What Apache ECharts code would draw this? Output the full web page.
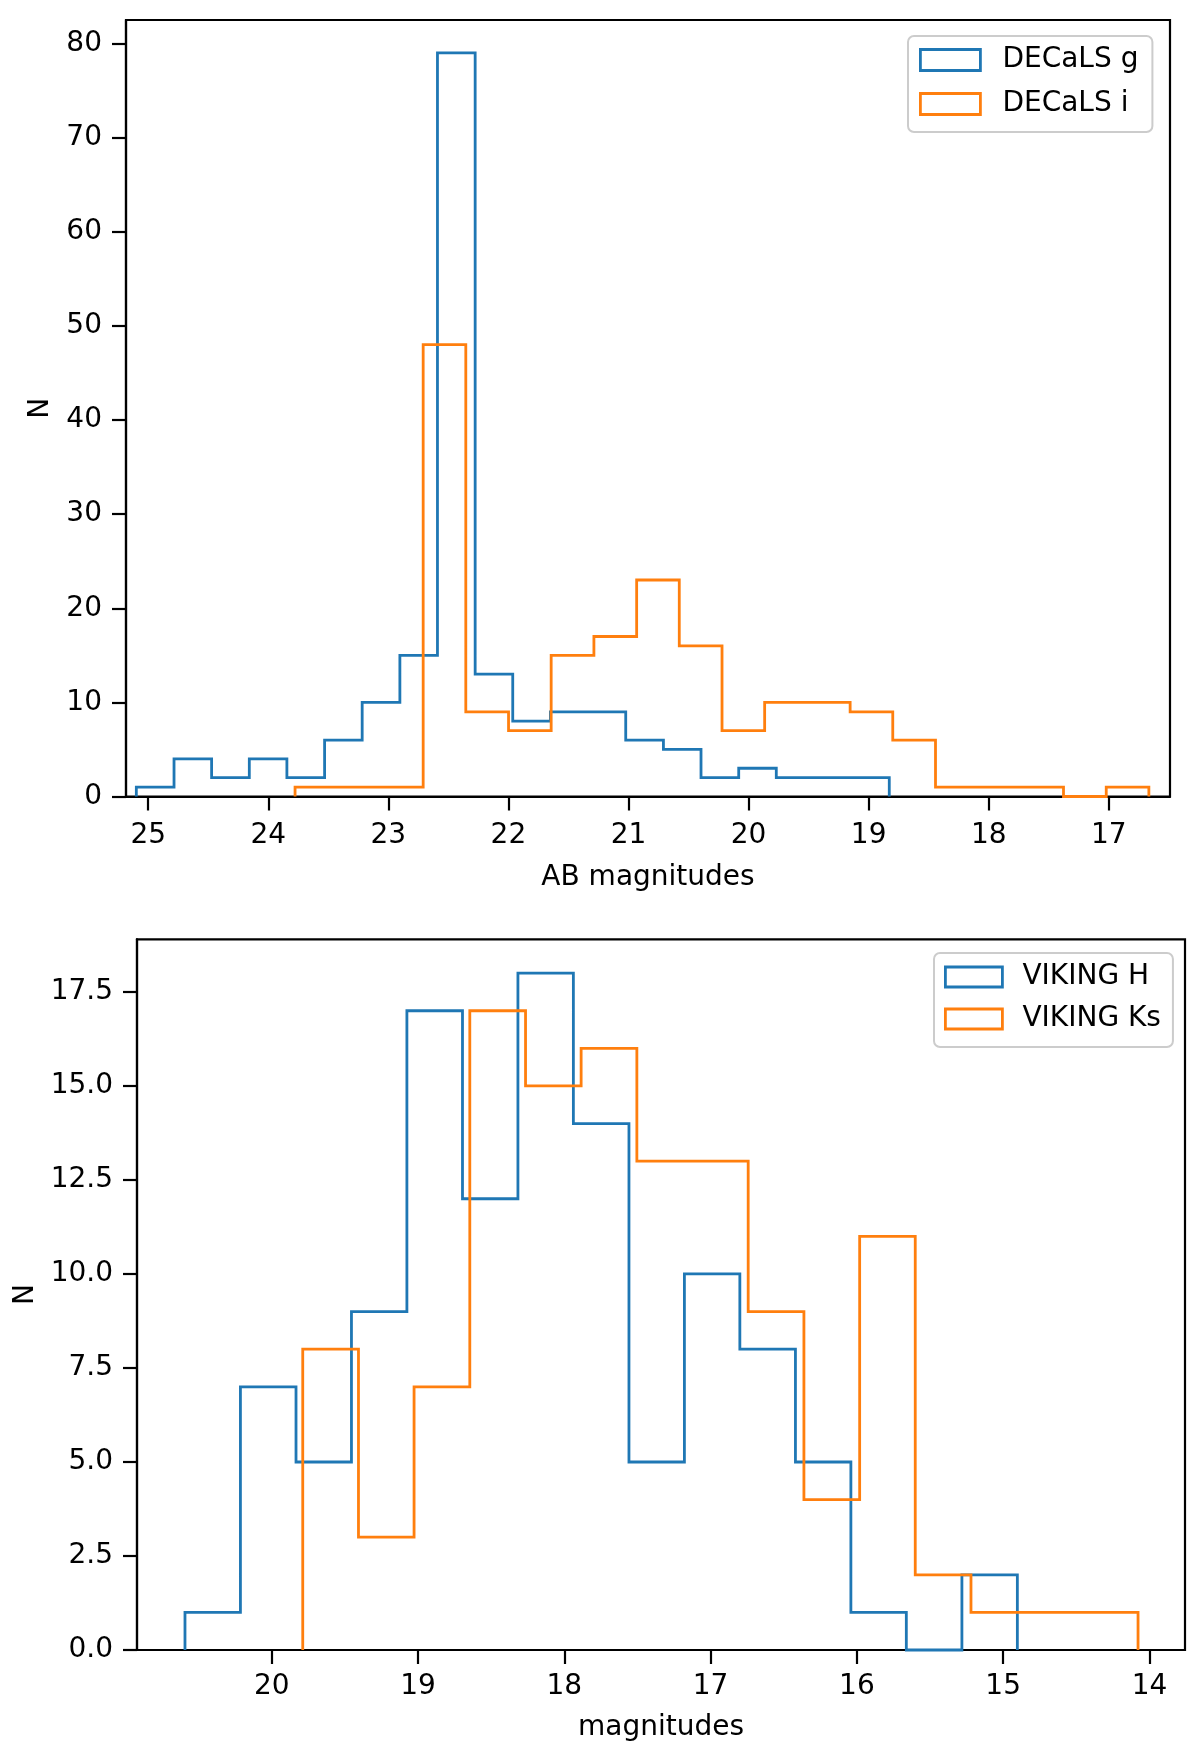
<!DOCTYPE html>
<html><head><meta charset="utf-8">
<script src="https://cdn.jsdelivr.net/npm/echarts@6/dist/echarts.min.js"></script>
<style>html,body{margin:0;padding:0;background:#fff}#c{width:1200px;height:1749px}</style>
</head><body><div id="c"></div>
<script>
// ---- Top panel: DECaLS (AB magnitudes) ----
const decalsGEdges = [25.099, 24.785, 24.472, 24.158, 23.845, 23.531, 23.218, 22.904, 22.591, 22.277, 21.964,
                      21.650, 21.337, 21.023, 20.709, 20.396, 20.082, 19.769, 19.455, 19.142, 18.828];
const decalsGCounts = [1, 4, 2, 4, 2, 6, 10, 15, 79, 13, 8, 9, 9, 6, 5, 2, 3, 2, 2, 2];
const decalsIEdges = [23.777, 23.421, 23.066, 22.710, 22.355, 21.999, 21.644, 21.288, 20.932, 20.577, 20.221,
                      19.866, 19.510, 19.154, 18.799, 18.443, 18.088, 17.732, 17.377, 17.021, 16.666];
const decalsICounts = [1, 1, 1, 48, 9, 7, 15, 17, 23, 16, 7, 10, 10, 9, 6, 1, 1, 1, 0, 1];
const topXTicks = [17, 18, 19, 20, 21, 22, 23, 24, 25];
const topYTicks = [0, 10, 20, 30, 40, 50, 60, 70, 80];

// ---- Bottom panel: VIKING ----
const vikingHEdges = [20.593, 20.214, 19.834, 19.455, 19.076, 18.696, 18.317, 17.938, 17.558, 17.179, 16.800,
                      16.420, 16.041, 15.662, 15.282, 14.903];
const vikingHCounts = [1, 7, 5, 9, 17, 12, 18, 14, 5, 10, 8, 5, 1, 0, 2];
const vikingKsEdges = [19.788, 19.407, 19.027, 18.646, 18.265, 17.885, 17.504, 17.123, 16.743, 16.362, 15.981,
                       15.601, 15.220, 14.839, 14.459, 14.078];
const vikingKsCounts = [8, 3, 7, 17, 15, 16, 13, 13, 9, 4, 11, 2, 1, 1, 1];
const botXTicks = [14, 15, 16, 17, 18, 19, 20];
const botYTicks = [0, 2.5, 5, 7.5, 10, 12.5, 15, 17.5];

const BLUE = '#1f77b4', ORANGE = '#ff7f0e';
const FONT = 'DejaVu Sans';
const FS = 28;

function stepPoints(edges, counts) {
  const pts = [[edges[0], 0]];
  for (let i = 0; i < counts.length; i++) {
    pts.push([edges[i], counts[i]]);
    pts.push([edges[i + 1], counts[i]]);
  }
  pts.push([edges[edges.length - 1], 0]);
  return pts;
}

function histSeries(name, edges, counts, color, idx) {
  return {
    type: 'line', name: name, xAxisIndex: idx, yAxisIndex: idx,
    data: stepPoints(edges, counts), showSymbol: false, symbol: 'none',
    clip: false, animation: false,
    lineStyle: { color: color, width: 2.8, join: 'miter' },
    itemStyle: { color: color }
  };
}

const tickStyle = { show: true, length: 14, inside: false, lineStyle: { color: '#000', width: 2.2 } };
const lineStyle = { show: true, onZero: false, lineStyle: { color: '#000', width: 2.2 } };
const labelBase = { color: '#000', fontFamily: FONT, fontSize: FS };

function xAxis(idx, min, max, ticks, name, margin, gap) {
  return {
    type: 'value', gridIndex: idx, inverse: true, min: min, max: max,
    axisLine: lineStyle, splitLine: { show: false },
    axisTick: Object.assign({}, tickStyle, { customValues: ticks }),
    axisLabel: Object.assign({}, labelBase, { customValues: ticks, margin: margin, formatter: v => String(v) }),
    name: name, nameLocation: 'middle', nameGap: gap,
    nameTextStyle: { color: '#000', fontFamily: FONT, fontSize: FS }
  };
}
function yAxis(idx, max, ticks, fmt, gap) {
  return {
    type: 'value', gridIndex: idx, min: 0, max: max,
    axisLine: lineStyle, splitLine: { show: false },
    axisTick: Object.assign({}, tickStyle, { customValues: ticks }),
    axisLabel: Object.assign({}, labelBase, { customValues: ticks, margin: 24, formatter: fmt }),
    name: 'N', nameLocation: 'middle', nameGap: gap,
    nameTextStyle: { color: '#000', fontFamily: FONT, fontSize: FS }
  };
}

function legend(names, colors, left, top, iw, ih, gap, pad, textPad) {
  return {
    orient: 'vertical', left: left, top: top,
    data: names.map((n, i) => ({
      name: n, icon: 'rect',
      itemStyle: { color: 'rgba(0,0,0,0)', borderColor: colors[i], borderWidth: 2.8 }
    })),
    itemWidth: iw, itemHeight: ih, itemGap: gap,
    padding: pad,
    backgroundColor: 'rgba(255,255,255,0.8)',
    borderColor: '#cccccc', borderWidth: 2, borderRadius: 6,
    selectedMode: false,
    textStyle: { color: '#000', fontFamily: FONT, fontSize: FS, lineHeight: 32, padding: [0, 0, 0, textPad] }
  };
}

const chart = echarts.init(document.getElementById('c'), null, { renderer: 'canvas' });
chart.setOption({
  animation: false,
  backgroundColor: '#fff',
  grid: [
    { left: 126, top: 20, width: 1044, height: 776.5, show: true, borderColor: '#000', borderWidth: 2.2, backgroundColor: 'transparent' },
    { left: 137, top: 939.3, width: 1048, height: 710.7, show: true, borderColor: '#000', borderWidth: 2.2, backgroundColor: 'transparent' }
  ],
  xAxis: [
    xAxis(0, 16.49, 25.185, topXTicks, 'AB magnitudes', 25, 67),
    xAxis(1, 13.757, 20.921, botXTicks, 'magnitudes', 23, 64)
  ],
  yAxis: [
    yAxis(0, 82.5, topYTicks, v => String(v), 71),
    yAxis(1, 18.9, botYTicks, v => v.toFixed(1), 96)
  ],
  legend: [
    legend(['DECaLS g', 'DECaLS i'], [BLUE, ORANGE], 908, 36, 60, 21, 12, [8, 14, 12, 11], 17),
    legend(['VIKING H', 'VIKING Ks'], [BLUE, ORANGE], 934, 953, 57, 20, 10, [8, 12, 12, 10], 15)
  ],
  series: [
    histSeries('DECaLS g', decalsGEdges, decalsGCounts, BLUE, 0),
    histSeries('DECaLS i', decalsIEdges, decalsICounts, ORANGE, 0),
    histSeries('VIKING H', vikingHEdges, vikingHCounts, BLUE, 1),
    histSeries('VIKING Ks', vikingKsEdges, vikingKsCounts, ORANGE, 1)
  ]
});
</script>
</body></html>
